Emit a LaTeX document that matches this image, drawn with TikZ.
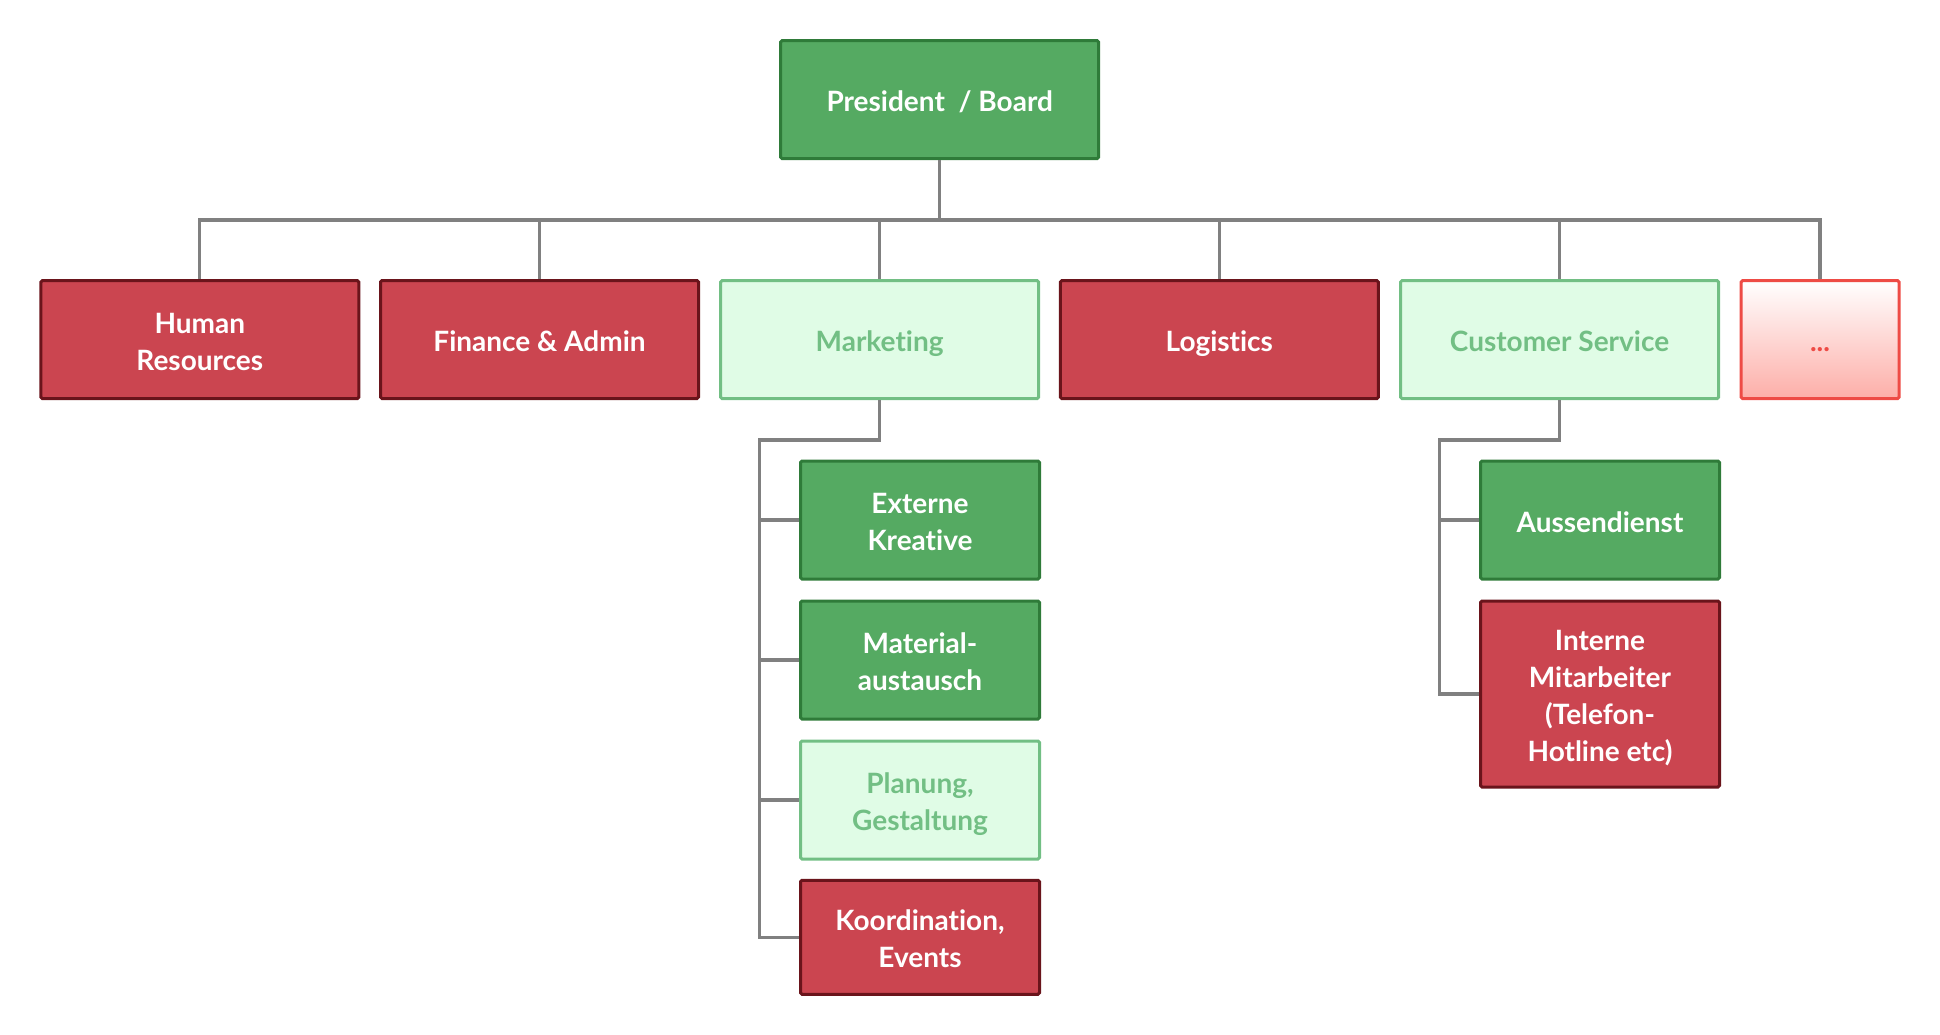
\documentclass[tikz,border=0pt]{standalone}
\usepackage{fontspec}
\setmainfont{Lato}[Ligatures=NoCommon]
\definecolor{dgfill}{HTML}{55AA62}
\definecolor{dgline}{HTML}{2F7B39}
\definecolor{rfill}{HTML}{CB4550}
\definecolor{rline}{HTML}{6A141B}
\definecolor{lgfill}{HTML}{E0FCE6}
\definecolor{lgline}{HTML}{72BF84}
\definecolor{pkline}{HTML}{EE4B45}
\definecolor{pkbot}{HTML}{FDAEA8}
\definecolor{conncol}{HTML}{808080}
\newcommand\topst{\rule{0pt}{1.16em}}
\newcommand\botst{\rule[-0.3em]{0pt}{0.3em}}
\tikzset{
  box/.style={rectangle, rounded corners=1.5pt, line width=3pt, align=center,
    font=\fontsize{28}{37}\selectfont\bfseries, inner sep=0pt},
  wide/.style={minimum width=318, minimum height=118},
  narrow/.style={minimum width=239, minimum height=118},
  darkgreen/.style={box, fill=dgfill, draw=dgline, text=white},
  redbox/.style={box, fill=rfill, draw=rline, text=white},
  lightgreen/.style={box, fill=lgfill, draw=lgline, text=lgline},
  pinkbox/.style={box, top color=white, bottom color=pkbot, draw=pkline, text=pkline},
  conn/.style={draw=conncol, line width=3.3pt}
}
\begin{document}
\begin{tikzpicture}[x=1pt,y=-1pt]
\path[use as bounding box] (0,0) rectangle (1940,1034);
\coordinate (bus) at (939.7,220);
\coordinate (mk) at (759.5,440);
\coordinate (ck) at (1439.5,440);
% nodes
\node[darkgreen, wide] (pres) at (939.7,99.6) {\topst President \ / Board\botst};
\node[redbox, wide] (hr) at (199.8,339.6) {\topst Human\\Resources\botst};
\node[redbox, wide] (fin) at (539.5,339.6) {\topst Finance \& Admin\botst};
\node[lightgreen, wide] (mark) at (879.6,339.6) {\topst Marketing\botst};
\node[redbox, wide] (log) at (1219.3,339.6) {\topst Logistics\botst};
\node[lightgreen, wide] (cs) at (1559.5,339.6) {\topst Customer Service\botst};
\node[pinkbox, minimum width=158, minimum height=118] (more) at (1820,339.6) {};
\node[text=pkline, font=\fontsize{28}{37}\selectfont\bfseries, inner sep=0pt, anchor=base] (moretxt) at ([yshift=-12pt]more.center) {...};
\node[darkgreen, narrow] (ext) at (920,520) {\topst Externe\\Kreative\botst};
\node[darkgreen, narrow] (mat) at (920,660) {\topst Material-\\austausch\botst};
\node[lightgreen, narrow] (plan) at (920,800) {\topst Planung,\\Gestaltung\botst};
\node[redbox, narrow, minimum height=114] (koord) at (920,937.3) {\topst Koordination,\\Events\botst};
\node[darkgreen, narrow] (auss) at (1600,520) {\topst Aussendienst\botst};
\node[redbox, narrow, minimum height=186] (intern) at (1600,694) {\topst Interne\\Mitarbeiter\\(Telefon-\\Hotline etc)\botst};
% connectors
\draw[conn] (pres.south) -- (bus);
\foreach \n in {hr,fin,mark,log,cs,more}{
  \draw[conn] (bus) -| (\n.north);
}
\draw[conn] (mark.south) |- (mk) |- (koord.west);
\foreach \n in {ext,mat,plan}{
  \draw[conn] (mk) |- (\n.west);
}
\draw[conn] (cs.south) |- (ck) |- (intern.west);
\draw[conn] (ck) |- (auss.west);
\end{tikzpicture}
\end{document}
